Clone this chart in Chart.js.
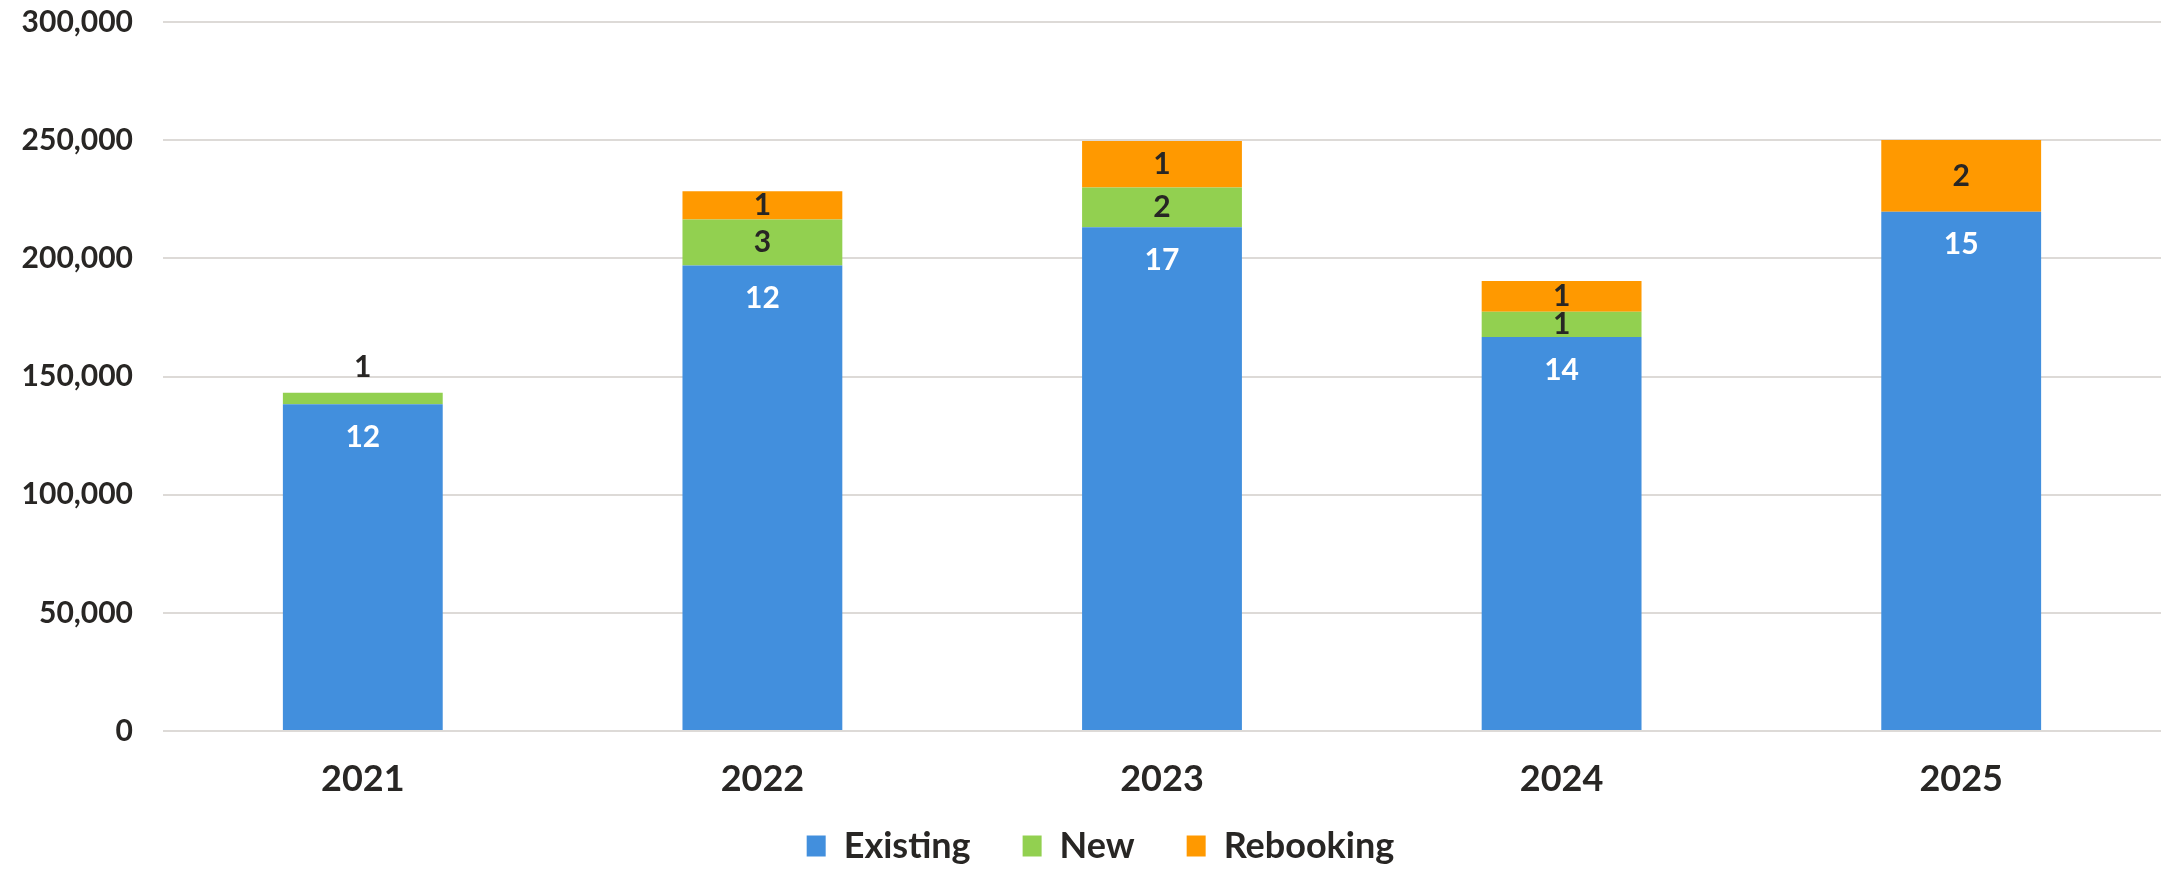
<!DOCTYPE html>
<html>
<head>
<meta charset="utf-8">
<script src="https://cdn.jsdelivr.net/npm/chart.js@4.4.1/dist/chart.umd.min.js"></script>
<style>
  html, body { margin: 0; padding: 0; background: #ffffff; }
  #wrap { width: 2172px; height: 869px; position: relative; }
</style>
</head>
<body>
<div id="wrap"><canvas id="c"></canvas></div>
<script>
// ---- data ----
const categories = ['2021', '2022', '2023', '2024', '2025'];
const existingValues = [138300, 197000, 213200, 166700, 219700];
const newValues = [4800, 19400, 16800, 10700, 0];
const rebookingValues = [0, 12000, 19600, 13000, 30400];
const existingCounts = [12, 12, 17, 14, 15];
const newCounts = [1, 3, 2, 1, null];
const rebookingCounts = [null, 1, 1, 1, 2];
const yTicks = [0, 50000, 100000, 150000, 200000, 250000, 300000];
const seriesNames = ['Existing', 'New', 'Rebooking'];

const FONT = 'Lato, "Open Sans", sans-serif';
const TEXT = '#282624';
const counts = [existingCounts, newCounts, rebookingCounts];

const labelPlugin = {
  id: 'segLabels',
  beforeLayout(chart) {
    const lg = chart.legend;
    if (lg && !lg._patched) {
      const f = lg.fit.bind(lg);
      lg.fit = function () { f(); this.height = 68; };
      const d = lg.draw.bind(lg);
      lg.draw = function () {
        const t = this.top, l = this.left, r = this.right;
        this.top = t - 25;
        this.left = l + 20;
        this.right = r + 20;
        d();
        this.top = t; this.left = l; this.right = r;
      };
      lg._patched = true;
    }
  },
  afterDatasetsDraw(chart) {
    const ctx = chart.ctx;
    ctx.save();
    ctx.font = 'bold 30px ' + FONT;
    ctx.textAlign = 'center';
    ctx.textBaseline = 'middle';
    chart.data.datasets.forEach((ds, i) => {
      const meta = chart.getDatasetMeta(i);
      meta.data.forEach((bar, j) => {
        const c = counts[i][j];
        if (c === null || c === undefined) return;
        const top = Math.min(bar.y, bar.base);
        const h = Math.abs(bar.base - bar.y);
        let y;
        if (i === 0) {
          ctx.fillStyle = '#ffffff';
          y = top + 33;
        } else {
          ctx.fillStyle = TEXT;
          y = h >= 24 ? top + h / 2 : top - 25;
        }
        ctx.fillText(String(c), bar.x, y);
      });
    });
    ctx.restore();
  }
};

new Chart(document.getElementById('c'), {
  type: 'bar',
  data: {
    labels: categories,
    datasets: [
      { label: seriesNames[0], data: existingValues, backgroundColor: '#428FDD', borderWidth: 0 },
      { label: seriesNames[1], data: newValues, backgroundColor: '#92D050', borderWidth: 0 },
      { label: seriesNames[2], data: rebookingValues, backgroundColor: '#FF9900', borderWidth: 0 }
    ]
  },
  options: {
    responsive: true,
    maintainAspectRatio: false,
    animation: false,
    layout: { padding: { top: 22, right: 11, bottom: 0, left: 0 } },
    datasets: { bar: { categoryPercentage: 1.0, barPercentage: 0.4 } },
    plugins: {
      tooltip: { enabled: false },
      legend: {
        position: 'bottom',
        labels: {
          boxWidth: 19,
          boxHeight: 21,
          padding: 52,
          color: TEXT,
          font: { family: FONT, size: 36, weight: 'bold' }
        }
      }
    },
    scales: {
      x: {
        stacked: true,
        grid: { display: false, drawTicks: false },
        border: { display: false },
        ticks: { color: TEXT, padding: 27, font: { family: FONT, size: 36, weight: 'bold' } },
        afterFit(scale) { scale.height = 70; scale.paddingTop = 0; scale.paddingBottom = 0; }
      },
      y: {
        stacked: true,
        min: 0,
        max: 300000,
        afterBuildTicks(scale) { scale.ticks = yTicks.map(v => ({ value: v })); },
        grid: { color: '#DDDAD7', lineWidth: 2, drawTicks: false },
        border: { display: false },
        ticks: {
          color: TEXT,
          padding: 30,
          font: { family: FONT, size: 30, weight: 'bold' },
          callback: v => Number(v).toLocaleString('en-US')
        },
        afterFit(scale) { scale.width = 163; scale.paddingTop = 0; scale.paddingBottom = 0; }
      }
    }
  },
  plugins: [labelPlugin]
});
</script>
</body>
</html>
